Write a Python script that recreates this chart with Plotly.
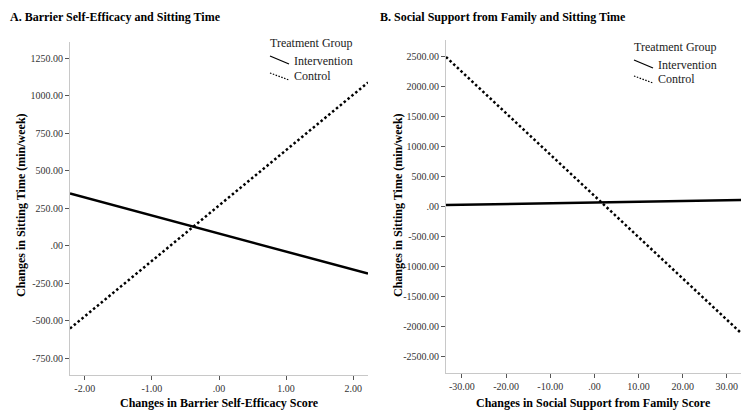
import plotly.graph_objects as go

# Panel A: barrier self-efficacy (x) vs change in sitting time
x_a = [-2.22, 2.22]
intervention_a = [347, -187]
control_a = [-553, 1087]
ytick_vals_a = [1250, 1000, 750, 500, 250, 0, -250, -500, -750]
ytick_text_a = ["1250.00", "1000.00", "750.00", "500.00", "250.00", ".00", "-250.00", "-500.00", "-750.00"]
xtick_vals_a = [-2, -1, 0, 1, 2]
xtick_text_a = ["-2.00", "-1.00", ".00", "1.00", "2.00"]

# Panel B: social support from family (x) vs change in sitting time
x_b = [-33.6, 33.2]
intervention_b = [33, 115]
control_b = [2500, -2100]
ytick_vals_b = [2500, 2000, 1500, 1000, 500, 0, -500, -1000, -1500, -2000, -2500]
ytick_text_b = ["2500.00", "2000.00", "1500.00", "1000.00", "500.00", ".00",
                "-500.00", "-1000.00", "-1500.00", "-2000.00", "-2500.00"]
xtick_vals_b = [-30, -20, -10, 0, 10, 20, 30]
xtick_text_b = ["-30.00", "-20.00", "-10.00", ".00", "10.00", "20.00", "30.00"]

# page body has an 8px margin, so the figure is a bit smaller and shifted
OFF = 8
W, H = 751 - OFF, 414 - OFF
SERIF = "Liberation Serif, Times New Roman, serif"


def px(x):
    return max(x - OFF, 0) / W


def py(y):
    return 1 - (y - OFF) / H


SOLID = dict(color="black", width=2.5)
DOTTED = dict(color="black", width=2.5, dash="2.5px,2.5px")

fig = go.Figure()
fig.add_trace(go.Scatter(x=x_a, y=intervention_a, mode="lines", name="Intervention",
                         line=SOLID, xaxis="x", yaxis="y"))
fig.add_trace(go.Scatter(x=x_a, y=control_a, mode="lines", name="Control",
                         line=DOTTED, xaxis="x", yaxis="y"))
fig.add_trace(go.Scatter(x=x_b, y=intervention_b, mode="lines", name="Intervention",
                         line=SOLID, xaxis="x2", yaxis="y2"))
fig.add_trace(go.Scatter(x=x_b, y=control_b, mode="lines", name="Control",
                         line=DOTTED, xaxis="x2", yaxis="y2"))

axis_style = dict(showgrid=False, zeroline=False, showline=True, linecolor="#c8c8c8",
                  linewidth=1, ticks="outside", ticklen=4, tickcolor="#555",
                  tickfont=dict(family=SERIF, size=10, color="#333"), automargin=False)

fig.update_layout(
    width=W, height=H,
    margin=dict(l=0, r=0, t=0, b=0),
    paper_bgcolor="white", plot_bgcolor="white",
    showlegend=False,
    xaxis=dict(domain=[px(70), px(368)], range=[-2.22, 2.22],
               tickvals=xtick_vals_a, ticktext=xtick_text_a, anchor="y", **axis_style),
    yaxis=dict(domain=[py(375), py(42)], range=[-863, 1357],
               tickvals=ytick_vals_a, ticktext=ytick_text_a, anchor="x", **axis_style),
    xaxis2=dict(domain=[px(446), px(741)], range=[-33.6, 33.2],
                tickvals=xtick_vals_b, ticktext=xtick_text_b, anchor="y2", **axis_style),
    yaxis2=dict(domain=[py(373), py(40)], range=[-2767, 2783],
                tickvals=ytick_vals_b, ticktext=ytick_text_b, anchor="x2", **axis_style),
)

title_font = dict(family=SERIF, size=12, color="black")
leg_font = dict(family=SERIF, size=12, color="#222")
annotations = [
    dict(text="<b>A. Barrier Self-Efficacy and Sitting Time</b>", x=px(8), y=py(17),
         xanchor="left", font=title_font),
    dict(text="<b>B. Social Support from Family and Sitting Time</b>", x=px(378), y=py(17),
         xanchor="left", font=title_font),
    dict(text="<b>Changes in Barrier Self-Efficacy Score</b>", x=px(219), y=py(403),
         xanchor="center", font=title_font),
    dict(text="<b>Changes in Social Support from Family Score</b>", x=px(593), y=py(403),
         xanchor="center", font=title_font),
    dict(text="<b>Changes in Sitting Time (min/week)</b>", x=px(21), y=py(205),
         xanchor="center", textangle=-90, font=title_font),
    dict(text="<b>Changes in Sitting Time (min/week)</b>", x=px(398), y=py(205),
         xanchor="center", textangle=-90, font=title_font),
]

# hand-drawn legends (SPSS style, diagonal glyphs)
legend_pos = [(268, 43, 270, 292, 61, 76), (632, 47, 634, 656, 65, 79)]
shapes = []
for tx, ty, gx, ix, iy, cy in legend_pos:
    annotations.append(dict(text="Treatment Group", x=px(tx), y=py(ty), xanchor="left", font=leg_font))
    annotations.append(dict(text="Intervention", x=px(ix), y=py(iy), xanchor="left", font=leg_font))
    annotations.append(dict(text="Control", x=px(ix), y=py(cy), xanchor="left", font=leg_font))
    shapes.append(dict(type="line", xref="paper", yref="paper", x0=px(gx), x1=px(gx + 19),
                       y0=py(iy - 5), y1=py(iy + 3), line=dict(color="black", width=1.2)))
    shapes.append(dict(type="line", xref="paper", yref="paper", x0=px(gx), x1=px(gx + 19),
                       y0=py(cy - 3), y1=py(cy + 4),
                       line=dict(color="black", width=1.2, dash="1.5px,1.5px")))

for a in annotations:
    a.update(xref="paper", yref="paper", showarrow=False, yanchor="middle")
fig.update_layout(annotations=annotations, shapes=shapes)

fig.write_html("out.html")
